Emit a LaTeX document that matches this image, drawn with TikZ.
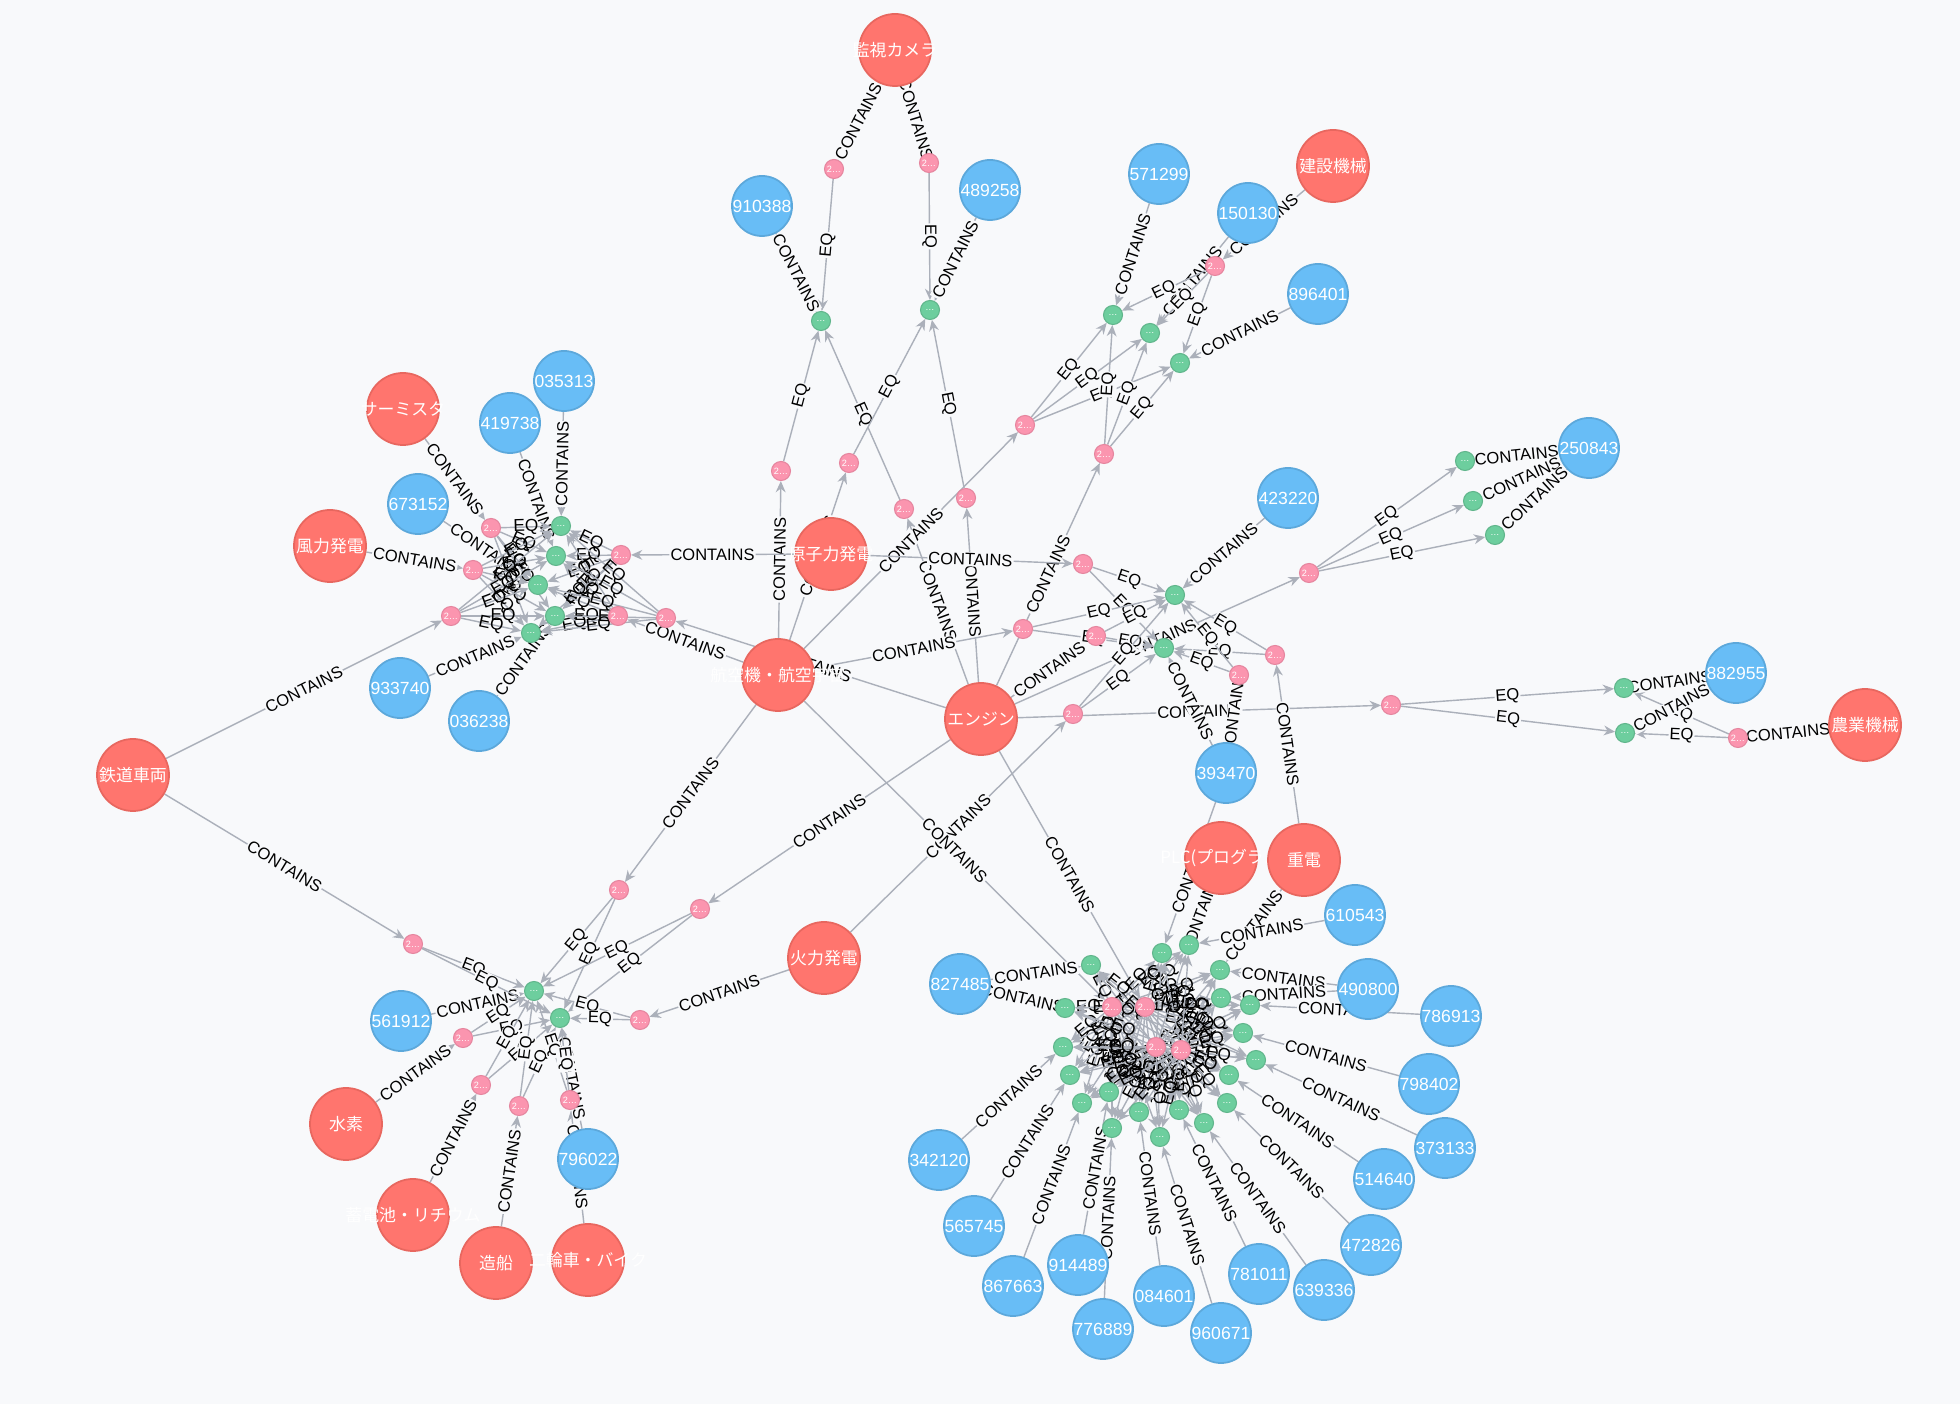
\documentclass[tikz,border=0pt]{standalone}
\usepackage{fontspec}
\setmainfont{Liberation Sans}
\newfontfamily\jpfont{Noto Sans CJK JP}
\usetikzlibrary{arrows.meta}

\definecolor{bgc}{HTML}{F8F9FB}
\definecolor{redc}{HTML}{FF756E}
\definecolor{redl}{HTML}{E8675F}
\definecolor{bluec}{HTML}{68BDF6}
\definecolor{bluel}{HTML}{5CA8DB}
\definecolor{greenc}{HTML}{6DCE9E}
\definecolor{greenl}{HTML}{60B58B}
\definecolor{pinkc}{HTML}{FB95AF}
\definecolor{pinkl}{HTML}{E5859E}
\definecolor{edgec}{HTML}{ABB0BA}

\pgfdeclarelayer{bglayer}
\pgfdeclarelayer{edgelayer}
\pgfsetlayers{bglayer,edgelayer,main}

\tikzset{
  ntext/.style={text=white, inner sep=0pt},
  redn/.style={circle, fill=redc, draw=redl, line width=0.5pt, minimum size=0.72cm, inner sep=0pt,
    label={[ntext, font=\jpfont\fontsize{4.8}{5}\selectfont]center:#1}},
  bluen/.style={circle, fill=bluec, draw=bluel, line width=0.5pt, minimum size=0.6cm, inner sep=0pt,
    label={[ntext, font=\fontsize{5}{5}\selectfont]center:#1}},
  pinkn/.style={circle, fill=pinkc, draw=pinkl, line width=0.3pt, minimum size=0.19cm, inner sep=0pt,
    text=white, font=\fontsize{2.6}{3}\selectfont},
  greenn/.style={circle, fill=greenc, draw=greenl, line width=0.3pt, minimum size=0.19cm, inner sep=0pt,
    text=white, font=\fontsize{2.6}{3}\selectfont},
  rel/.style={draw=edgec, line width=0.4pt, ->},
  lbl/.style={sloped, fill=bgc, inner sep=0.3pt, text=black, font=\fontsize{4.7}{5}\selectfont},
  lblx/.style={sloped, inner sep=0.3pt, text=black, font=\fontsize{4.9}{5}\selectfont}
}

\newcommand{\cont}[2]{\draw[rel] (#1) -- node[lbl]{CONTAINS} (#2);}
\newcommand{\eqto}[2]{\draw[rel] (#1) -- node[lbl]{EQ} (#2);}
% dichte Haufen: Beschriftung ohne Fuellung
\newcommand{\eqx}[2]{\draw[rel] (#1) -- node[lblx]{EQ} (#2);}

\begin{document}
\begin{tikzpicture}[x=0.01cm, y=-0.01cm, >={Stealth[length=3.2pt,width=2.8pt]}]
  \useasboundingbox (0,0) rectangle (1960,1404);
  \begin{pgfonlayer}{bglayer}
    \fill[bgc] (0,0) rectangle (1960,1404);
  \end{pgfonlayer}

  % Kategorien
  \node[redn=監視カメラ] (cam) at (895,50) {};
  \node[redn=建設機械] (ken) at (1333,166) {};
  \node[redn=サーミスタ] (thm) at (403,409) {};
  \node[redn=風力発電] (wind) at (330,546) {};
  \node[redn=原子力発電] (nuc) at (831,554) {};
  \node[redn=航空機・航空宇宙] (air) at (778,675) {};
  \node[redn=エンジン] (eng) at (981,719) {};
  \node[redn=鉄道車両] (rail) at (133,775) {};
  \node[redn=火力発電] (fire) at (824,958) {};
  \node[redn=農業機械] (agri) at (1865,725) {};
  \node[redn=PLC(プログラ…] (plc) at (1221,858) {};
  \node[redn=重電] (heavy) at (1304,860) {};
  \node[redn=水素] (hyd) at (346,1124) {};
  \node[redn=蓄電池・リチウム] (batt) at (413,1215) {};
  \node[redn=造船] (ship) at (496,1263) {};
  \node[redn=二輪車・バイク] (bike) at (588,1260) {};

  % Dokumente
  \foreach \n/\x/\y in {910388/762/206, 489258/990/190, 571299/1159/174, 150130/1248/213,
      896401/1318/294, 035313/564/381, 419738/510/423, 673152/418/504, 423220/1288/498,
      250843/1589/448, 933740/400/688, 036238/479/721, 882955/1736/673, 393470/1226/773,
      610543/1355/915, 827485/960/984, 490800/1368/989, 786913/1451/1016, 561912/401/1021,
      798402/1429/1084, 373133/1445/1148, 796022/588/1159, 342120/939/1160, 514640/1384/1179,
      565745/974/1226, 472826/1371/1245, 914489/1078/1265, 781011/1259/1274, 639336/1324/1290,
      867663/1013/1286, 084601/1164/1296, 776889/1103/1329, 960671/1221/1333}
    \node[bluen=\n] (b\n) at (\x,\y) {};

  % Begriffe
  \foreach \n/\x/\y in {p1/834/169, p2/929/163, p3/781/471, p4/849/463, p5/904/509, p6/966/498,
      p7/1025/425, p8/1104/454, p9/1215/266, p10/1083/564, p11/1023/629, p12/1096/636,
      p13/1073/714, p14/1275/655, p15/1239/675, p16/1309/573, p17/1391/705, p18/1738/738,
      q1/491/528, q2/473/570, q3/451/616, q4/621/555, q5/618/616, q6/666/618,
      r1/413/944, r2/619/890, r3/700/909, r4/640/1020, r5/463/1038, r6/481/1085, r7/519/1106, r8/570/1100,
      s1/1112/1007, s2/1145/1007, s3/1156/1047, s4/1181/1050}
    \node[pinkn] (\n) at (\x,\y) {2…};
  \foreach \n/\x/\y in {g1/821/321, g2/930/310, g3/1113/315, g4/1150/333, g5/1180/363,
      g6/1175/595, g7/1164/648, g8/1465/461, g9/1473/501, g10/1495/535, g11/1624/688, g12/1625/733,
      h1/561/526, h2/556/556, h3/538/585, h4/555/616, h5/531/633, k1/534/991, k2/560/1018,
      m1/1091/965, m2/1162/953, m3/1189/945, m4/1220/970, m5/1221/998, m6/1250/1005,
      m7/1065/1008, m8/1243/1033, m9/1256/1060, m10/1063/1047, m11/1070/1075, m12/1229/1075,
      m13/1109/1092, m14/1082/1103, m15/1227/1103, m16/1139/1112, m17/1179/1110,
      m18/1112/1128, m19/1160/1137, m20/1204/1123}
    \node[greenn] (\n) at (\x,\y) {…};

  \begin{pgfonlayer}{edgelayer}
    % oben
    \cont{cam}{p1} \cont{cam}{p2}
    \eqto{p1}{g1} \eqto{p2}{g2}
    \cont{b910388}{g1} \cont{b489258}{g2}
    \eqto{p3}{g1} \eqto{p5}{g1} \eqto{p4}{g2} \eqto{p6}{g2}
    \cont{air}{p3} \cont{air}{p4} \cont{eng}{p5} \cont{eng}{p6}
    \cont{air}{p7} \cont{eng}{p8} \cont{ken}{p9}
    \cont{b571299}{g3} \cont{b150130}{g4} \cont{b896401}{g5}
    \foreach \p in {p7,p8,p9} \foreach \g in {g3,g4,g5} {\eqto{\p}{\g}}

    % rechts
    \cont{nuc}{p10} \cont{air}{p11} \cont{eng}{p12} \cont{fire}{p13}
    \cont{eng}{p16} \cont{eng}{p17} \cont{heavy}{p14}
    \cont{b423220}{g6} \cont{b393470}{g7} \cont{b393470}{p15}
    \foreach \p in {p10,p11,p12,p13,p14,p15} \foreach \g in {g6,g7} {\eqto{\p}{\g}}
    \foreach \g in {g8,g9,g10} {\eqto{p16}{\g} \cont{b250843}{\g}}
    \foreach \g in {g11,g12} {\eqto{p17}{\g} \eqto{p18}{\g} \cont{b882955}{\g}}
    \cont{agri}{p18}

    % links
    \cont{thm}{q1} \cont{wind}{q2} \cont{rail}{q3} \cont{nuc}{q4} \cont{air}{q5} \cont{eng}{q6}
    \cont{b035313}{h1} \cont{b419738}{h2} \cont{b673152}{h3} \cont{b036238}{h4} \cont{b933740}{h5}
    \foreach \q in {1,...,6} \foreach \h in {1,...,5} {\eqx{q\q}{h\h}}

    % unten links
    \cont{rail}{r1} \cont{air}{r2} \cont{eng}{r3} \cont{fire}{r4}
    \cont{hyd}{r5} \cont{batt}{r6} \cont{ship}{r7} \cont{bike}{r8}
    \cont{b561912}{k1} \cont{b796022}{k2}
    \foreach \r in {1,...,8} \foreach \k in {1,2} {\eqto{r\r}{k\k}}

    % unten rechts
    \cont{air}{s1} \cont{eng}{s2}
    \cont{b393470}{m2} \cont{plc}{m3} \cont{heavy}{m4}
    \foreach \bid/\m in {827485/1, 827485/7, 342120/10, 565745/11, 867663/14, 914489/13,
        776889/18, 084601/16, 960671/19, 781011/17, 639336/20, 472826/15, 514640/12,
        373133/9, 798402/8, 786913/6, 490800/4, 490800/5, 610543/3}
      {\cont{b\bid}{m\m}}
    \foreach \s in {1,...,4} \foreach \m in {1,...,20} {\eqx{s\s}{m\m}}
  \end{pgfonlayer}
\end{tikzpicture}
\end{document}
